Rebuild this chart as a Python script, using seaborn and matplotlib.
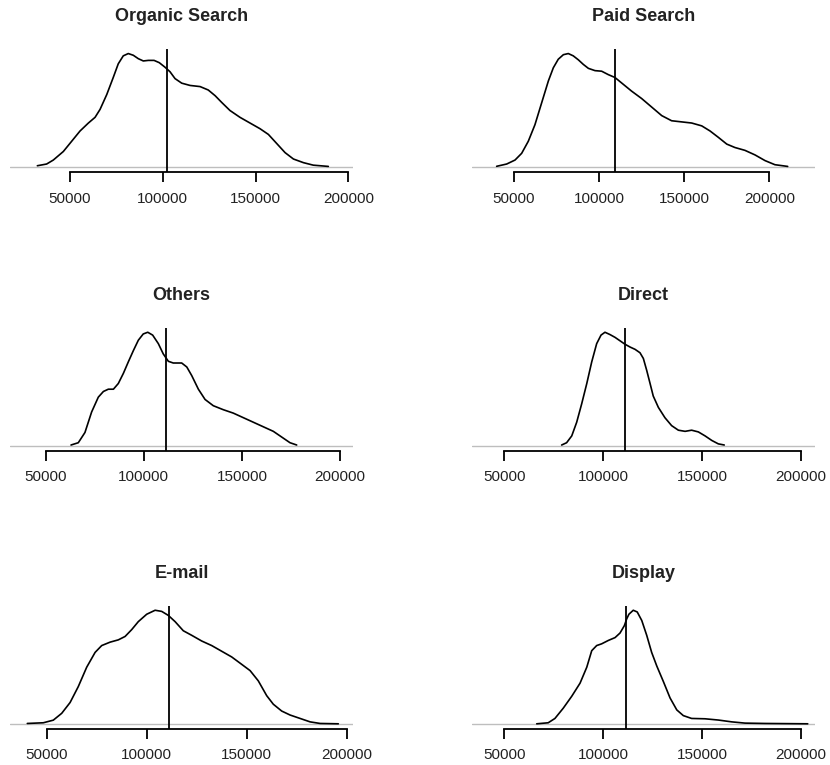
import matplotlib
matplotlib.use("Agg")
import matplotlib.pyplot as plt
import seaborn as sns
import pandas as pd

# -----------------------
# Density curves (x = revenue, y = density relative to peak)
# -----------------------
organic_x = [32400, 37400, 41000, 46400, 50900, 55400, 59900, 63500, 66200, 69800,
             73300, 76000, 78700, 81400, 84100, 86800, 89500, 92200, 95300, 98100,
             101200, 103900, 106600, 110200, 114700, 120100, 124500, 128200, 131800, 136200,
             141600, 147000, 152400, 156900, 161400, 165900, 170400, 175800, 181100, 189200]
organic_y = [0.015, 0.03, 0.065, 0.14, 0.23, 0.32, 0.39, 0.44, 0.51, 0.64,
             0.79, 0.91, 0.98, 1.0, 0.985, 0.955, 0.935, 0.94, 0.94, 0.92,
             0.88, 0.84, 0.78, 0.74, 0.72, 0.71, 0.68, 0.63, 0.57, 0.50,
             0.44, 0.39, 0.34, 0.29, 0.21, 0.13, 0.074, 0.042, 0.02, 0.009]

paid_x = [39800, 45700, 50600, 54500, 58400, 62300, 66300, 70200, 73100, 76000,
          79000, 81900, 84800, 87800, 90700, 93700, 97600, 101500, 105400, 109300,
          114200, 119100, 125000, 130900, 136800, 142600, 148500, 154400, 160300, 165200,
          170000, 175000, 179800, 185700, 191600, 197500, 203300, 210800]
paid_y = [0.01, 0.03, 0.065, 0.124, 0.23, 0.375, 0.57, 0.76, 0.875, 0.95,
          0.99, 1.0, 0.98, 0.945, 0.905, 0.87, 0.85, 0.845, 0.815, 0.79,
          0.73, 0.67, 0.605, 0.53, 0.455, 0.41, 0.40, 0.39, 0.365, 0.32,
          0.265, 0.205, 0.175, 0.15, 0.11, 0.06, 0.024, 0.009]

others_x = [62900, 66600, 70000, 73400, 76800, 79400, 81900, 84500, 87000, 89600,
            92100, 94700, 97200, 99700, 102000, 104500, 107400, 109900, 112500, 115000,
            119300, 121900, 124400, 127800, 131200, 135400, 140500, 145600, 150700, 155800,
            160900, 166000, 171100, 174500, 177900]
others_y = [0.01, 0.03, 0.12, 0.30, 0.43, 0.48, 0.50, 0.50, 0.55, 0.64,
            0.74, 0.84, 0.93, 0.985, 1.0, 0.975, 0.90, 0.81, 0.745, 0.73,
            0.73, 0.695, 0.62, 0.50, 0.41, 0.355, 0.32, 0.29, 0.25, 0.21,
            0.17, 0.13, 0.07, 0.03, 0.01]

direct_x = [79000, 81500, 84100, 86600, 89100, 91700, 94200, 96700, 98900, 100900,
            103400, 106000, 108500, 111000, 113600, 116100, 118600, 120300, 122000, 123700,
            125300, 127900, 131200, 134600, 138000, 141400, 144700, 148100, 151500, 154900,
            158200, 161200]
direct_y = [0.01, 0.03, 0.09, 0.21, 0.37, 0.55, 0.74, 0.90, 0.975, 1.0,
            0.98, 0.955, 0.925, 0.895, 0.87, 0.85, 0.82, 0.77, 0.665, 0.55,
            0.44, 0.34, 0.25, 0.18, 0.14, 0.13, 0.14, 0.125, 0.09, 0.05,
            0.02, 0.01]

email_x = [40300, 48300, 53300, 57500, 61700, 65800, 70000, 74200, 77500, 81700,
           85800, 89200, 92500, 95800, 100000, 104200, 107500, 110800, 114200, 118300,
           122500, 127500, 132500, 137500, 142500, 147500, 151700, 155800, 160000, 163300,
           167500, 171700, 176700, 181700, 186700, 195800]
email_y = [0.006, 0.012, 0.035, 0.095, 0.19, 0.33, 0.50, 0.63, 0.69, 0.72,
           0.74, 0.77, 0.83, 0.90, 0.965, 1.0, 0.99, 0.955, 0.90, 0.82,
           0.78, 0.73, 0.69, 0.64, 0.59, 0.525, 0.47, 0.38, 0.25, 0.175,
           0.115, 0.08, 0.05, 0.02, 0.006, 0.003]

display_x = [66400, 72200, 75600, 79800, 84100, 88300, 91700, 94200, 96700, 99200,
             102600, 106000, 108500, 110700, 111900, 113000, 115200, 117200, 119500, 122000,
             124500, 127100, 130400, 133800, 137200, 140500, 144700, 151500, 158200, 165000,
             171700, 181800, 203400]
display_y = [0.003, 0.012, 0.05, 0.14, 0.245, 0.36, 0.50, 0.645, 0.69, 0.705,
             0.735, 0.76, 0.80, 0.865, 0.925, 0.965, 1.0, 0.985, 0.91, 0.78,
             0.63, 0.51, 0.375, 0.23, 0.125, 0.075, 0.05, 0.047, 0.036, 0.02,
             0.009, 0.006, 0.003]

channels = ["Organic Search", "Paid Search", "Others", "Direct", "E-mail", "Display"]
curves_x = [organic_x, paid_x, others_x, direct_x, email_x, display_x]
curves_y = [organic_y, paid_y, others_y, direct_y, email_y, display_y]
means = [102100, 109500, 111200, 110900, 111300, 111700]
x_limits = [(17660, 202500), (25320, 226850), (31800, 206600),
            (33670, 207080), (31650, 203150), (33670, 207080)]
tick_values = [50000, 100000, 150000, 200000]

# -----------------------
# Style
# -----------------------
sns.set_style("white")
plt.rcParams["font.family"] = ["Liberation Sans", "DejaVu Sans"]

W, H = 830, 765
fig = plt.figure(figsize=(W / 100, H / 100), dpi=100)

col_left = [10, 472]
col_width = 343
row_top = [49, 327.7, 605.7]
row_height = 123

for i, name in enumerate(channels):
    r, c = divmod(i, 2)
    left = col_left[c] / W
    bottom = 1 - (row_top[r] + row_height) / H
    ax = fig.add_axes([left, bottom, col_width / W, row_height / H])

    df = pd.DataFrame({"x": curves_x[i], "y": curves_y[i]})
    ax.axhline(0, color="#bebebe", lw=1.0, zorder=1)
    sns.lineplot(data=df, x="x", y="y", color="black", lw=1.2, ax=ax, zorder=3)
    ax.axvline(means[i], color="black", lw=1.3, zorder=2)

    ax.set_xlim(*x_limits[i])
    ax.set_ylim(-0.04, 1.04)
    ax.set_xlabel("")
    ax.set_ylabel("")
    ax.set_yticks([])
    ax.set_xticks(tick_values)
    ax.set_xticklabels([str(v) for v in tick_values])
    for s in ["top", "right", "left"]:
        ax.spines[s].set_visible(False)
    ax.spines["bottom"].set_bounds(50000, 200000)
    ax.spines["bottom"].set_linewidth(1.3)
    ax.spines["bottom"].set_color("black")
    ax.tick_params(axis="x", which="major", bottom=True, direction="out",
                   length=7.2, width=1.3, color="black",
                   labelsize=11, labelcolor="#222222", pad=7)
    ax.patch.set_alpha(0)

    ax.text(0.5, 1.262, name, transform=ax.transAxes, ha="center", va="center",
            fontsize=13, fontweight="bold", color="#222222")

fig.savefig("out.png", dpi=100)
